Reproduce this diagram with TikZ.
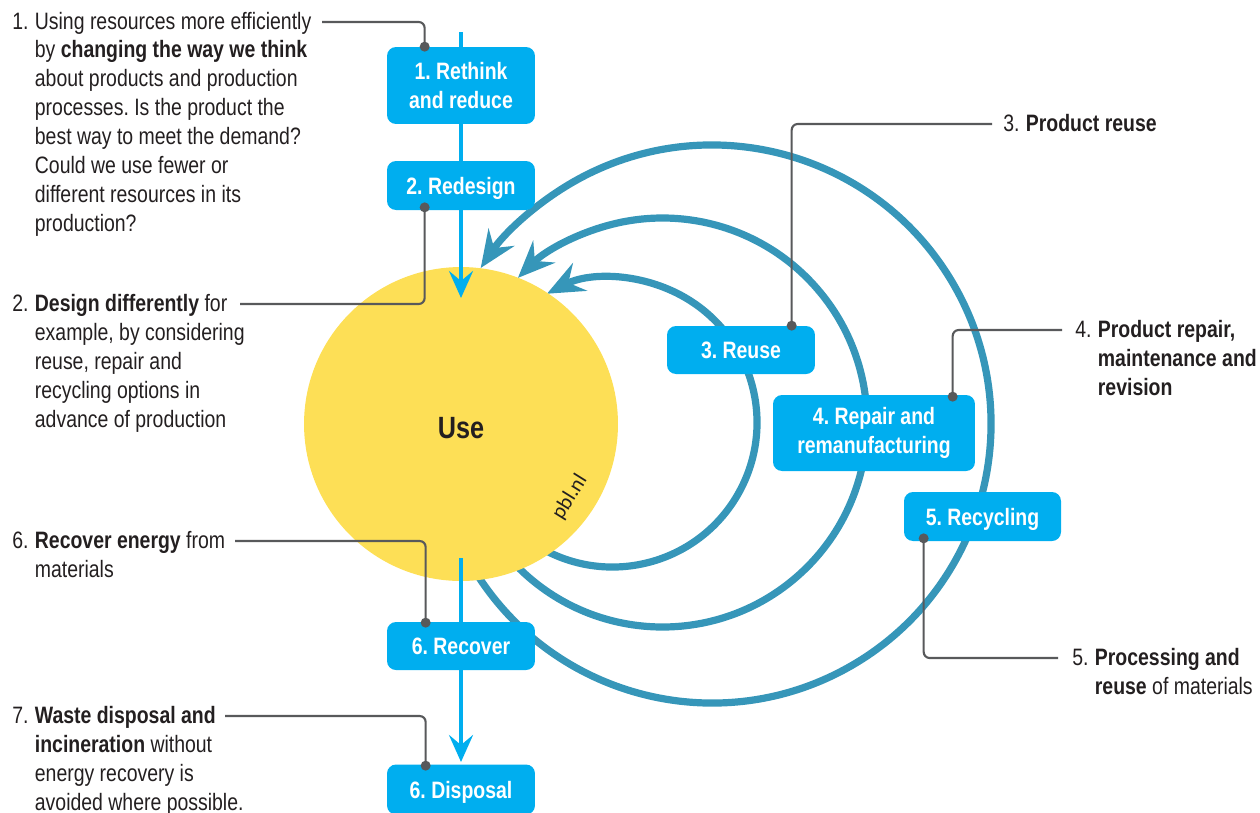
\documentclass[tikz,border=0pt]{standalone}
\usepackage{fontspec}
\setmainfont{Liberation Sans}[FakeStretch=0.82]
\newfontfamily\pblfont{Carlito}
\usetikzlibrary{arrows.meta,calc}
\definecolor{boxblue}{RGB}{0,174,239}
\definecolor{arcblue}{RGB}{54,150,185}
\definecolor{useyellow}{RGB}{253,223,86}
\definecolor{txt}{RGB}{35,31,32}
\definecolor{callgray}{RGB}{88,89,91}
\frenchspacing
\begin{document}
\begin{tikzpicture}[x=0.02cm,y=-0.02cm,
  stepbox/.style={fill=boxblue, rounded corners=0.18cm, text=white,
    font=\fontsize{13.5}{16.5}\selectfont\bfseries, align=center, inner sep=0pt},
  onerow/.style={text height=9.7pt, text depth=0pt},
  flow/.style={draw=boxblue, line width=2.27pt,
    -{Stealth[length=0.54cm,width=0.48cm,inset=0.2cm]}},
  loop/.style={draw=arcblue, line width=4.1pt,
    -{Stealth[length=0.74cm,width=0.62cm,inset=0.26cm]}},
  callout/.style={draw=callgray, line width=1.2pt, rounded corners=0.12cm},
  dot/.style={circle, fill=callgray, inner sep=0pt, minimum size=0.2cm},
  note/.style={text=txt, font=\fontsize{13.5}{16.5}\selectfont, inner sep=0pt, anchor=base west}
]
\useasboundingbox (0,0) rectangle (1260,812);

% loops (drawn first, behind circle and boxes)
\draw[loop] ({612.5+144.5*cos(120)},{422.5+144.5*sin(120)})
  arc[start angle=120, end angle=-117, radius=144.5];
\draw[loop] ({662.5+204.5*cos(138)},{422.5+204.5*sin(138)})
  arc[start angle=138, end angle=-135, radius=204.5];
\draw[loop] ({712+279*cos(150)},{424+279*sin(150)})
  arc[start angle=150, end angle=-146, radius=279];

% central circle
\node[circle, fill=useyellow, minimum size=6.28cm, inner sep=0pt] (use) at (461,424) {};
\node[text=txt, font=\fontsize{17.5}{20}\selectfont\bfseries, inner sep=0pt] (uselabel) at (461,428) {Use};
\node[text=txt, font=\pblfont\fontsize{12}{13}\selectfont, rotate=58, inner sep=0pt] (pbl) at (570,497) {pbl.nl};

% main flow
\coordinate (top) at (461,32);
\coordinate (intip) at (461,298);
\coordinate (outstart) at (461,558);
\coordinate (outtip) at (461,762);
\draw[flow] (top) -- (intip);
\draw[flow] (outstart) -- (outtip);

% boxes
\node[stepbox, minimum width=2.96cm, minimum height=1.54cm] (rethink) at (461,85.5) {1. Rethink\\and reduce};
\node[stepbox, onerow, minimum width=2.96cm, minimum height=0.98cm] (redesign) at (461,185.5) {2. Redesign};
\node[stepbox, onerow, minimum width=2.96cm, minimum height=0.96cm] (reuse) at (741,350) {3. Reuse};
\node[stepbox, minimum width=4.04cm, minimum height=1.52cm] (repair) at (874,433) {4. Repair and\\remanufacturing};
\node[stepbox, onerow, minimum width=3.14cm, minimum height=0.98cm] (recycling) at (982.5,516.5) {5. Recycling};
\node[stepbox, onerow, minimum width=2.96cm, minimum height=0.96cm] (recover) at (461,646) {6. Recover};
\node[stepbox, onerow, minimum width=2.96cm, minimum height=1.0cm] (disposal) at (461,789.5) {6. Disposal};

% callout dots
\node[dot] (d1) at ($(rethink.north west)+(38,0)$) {};
\node[dot] (d2) at ($(redesign.south west)+(38,-3)$) {};
\node[dot] (d3) at ($(reuse.north west)+(125,0)$) {};
\node[dot] (d4) at ($(repair.north west)+(180,2)$) {};
\node[dot] (d5) at ($(recycling.south west)+(20,-3)$) {};
\node[dot] (d6) at ($(recover.north west)+(39,1)$) {};
\node[dot] (d7) at ($(disposal.north west)+(39,1.5)$) {};

% notes
\node[note] (n1) at (12,29) {\begin{tabular}[t]{@{}l@{\hspace{3.6pt}}l@{}}
1.&Using resources more efficiently\\
&by \textbf{changing the way we think}\\
&about products and production\\
&processes. Is the product the\\
&best way to meet the demand?\\
&Could we use fewer or\\
&different resources in its\\
&production?\end{tabular}};
\node[note] (n2) at (12,311.5) {\begin{tabular}[t]{@{}l@{\hspace{3.6pt}}l@{}}
2.&\textbf{Design differently} for\\
&example, by considering\\
&reuse, repair and\\
&recycling options in\\
&advance of production\end{tabular}};
\node[note] (n3) at (1003,131.5) {3.\hspace{3.6pt}\textbf{Product reuse}};
\node[note] (n4) at (1075,337.5) {\begin{tabular}[t]{@{}l@{\hspace{3.6pt}}l@{}}
4.&\textbf{Product repair,}\\
&\textbf{maintenance and}\\
&\textbf{revision}\end{tabular}};
\node[note] (n5) at (1072,665.5) {\begin{tabular}[t]{@{}l@{\hspace{3.6pt}}l@{}}
5.&\textbf{Processing and}\\
&\textbf{reuse} of materials\end{tabular}};
\node[note] (n6) at (12,548.5) {\begin{tabular}[t]{@{}l@{\hspace{3.6pt}}l@{}}
6.&\textbf{Recover energy} from\\
&materials\end{tabular}};
\node[note] (n7) at (12,723.5) {\begin{tabular}[t]{@{}l@{\hspace{3.6pt}}l@{}}
7.&\textbf{Waste disposal and}\\
&\textbf{incineration} without\\
&energy recovery is\\
&avoided where possible.\end{tabular}};

% callout lines
\coordinate (c1) at (322,22);
\coordinate (c2) at (240,304);
\coordinate (c3) at (992,124);
\coordinate (c4) at (1062,330);
\coordinate (c5) at (1058,658);
\coordinate (c6) at (235,541);
\coordinate (c7) at (225,716);
\draw[callout] (c1) -| (d1.center);
\draw[callout] (c2) -| (d2.center);
\draw[callout] (c3) -| (d3.center);
\draw[callout] (c4) -| (d4.center);
\draw[callout] (d5.center) |- (c5);
\draw[callout] (c6) -| (d6.center);
\draw[callout] (c7) -| (d7.center);
\end{tikzpicture}
\end{document}
